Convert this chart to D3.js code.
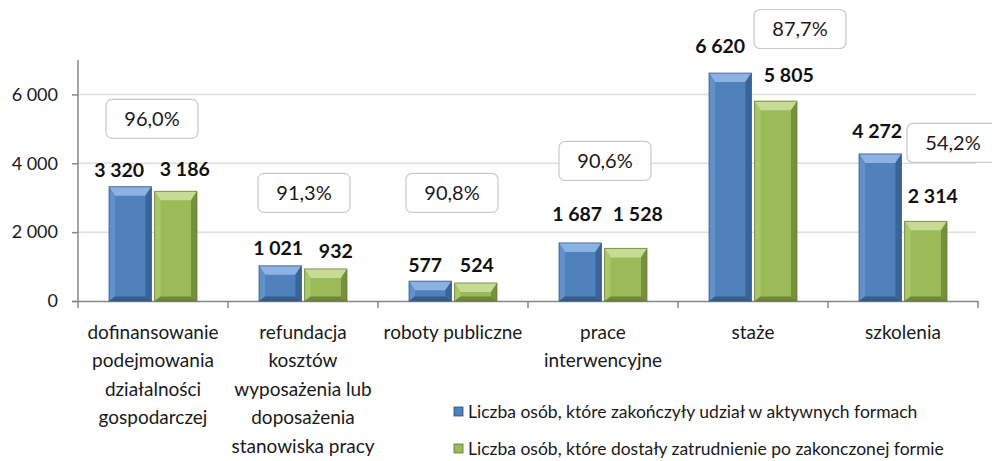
<!DOCTYPE html>
<html>
<head>
<meta charset="utf-8">
<script src="https://cdn.jsdelivr.net/npm/d3@7"></script>
<style>
  body { margin: 0; background: #fff; }
  svg { display: block; font-family: Lato, "Open Sans", sans-serif; }
</style>
</head>
<body>
<script>
// chart data
var categories = [
  "dofinansowanie podejmowania działalności gospodarczej",
  "refundacja kosztów wyposażenia lub doposażenia stanowiska pracy",
  "roboty publiczne",
  "prace interwencyjne",
  "staże",
  "szkolenia"
];
// category labels broken into lines as in the picture
var categoryLines = [
  ["dofinansowanie", "podejmowania", "działalności", "gospodarczej"],
  ["refundacja", "kosztów", "wyposażenia lub", "doposażenia", "stanowiska pracy"],
  ["roboty publiczne"],
  ["prace", "interwencyjne"],
  ["staże"],
  ["szkolenia"]
];
var finished = [3320, 1021, 577, 1687, 6620, 4272];
var employed = [3186, 932, 524, 1528, 5805, 2314];
var rates = ["96,0%", "91,3%", "90,8%", "90,6%", "87,7%", "54,2%"];
var seriesNames = [
  "Liczba osób, które zakończyły udział w aktywnych formach",
  "Liczba osób, które dostały zatrudnienie po zakonczonej formie"
];
var yTicks = [0, 2000, 4000, 6000];

// label placement (layout only)
var rateBoxAt = [[-1, 5290], [1, 3140], [-1, 3140], [2, 4070], [47, 7900], [50, 4590]]; // [dx px, y value]
var finLabelOff = [[-11, 10], [-2, 11], [-5, 9], [-3, 22], [-10, 20], [-3, 16]];
var empLabelOff = [[9, 15], [10, 11], [1, 11], [12, 27], [13, 19], [7, 18]];

var width = 992, height = 461;
var svg = d3.select("body").append("svg")
  .attr("width", width)
  .attr("height", height);

var x = d3.scaleBand().domain(d3.range(categories.length)).range([78, 978]);
var xSub = d3.scaleBand().domain([0, 1]).range([31, 119]).paddingInner(0.07);
var y = d3.scaleLinear().domain([0, 7000]).range([301, 60]);

// thousands separated by a space
var fmtVal = function(v) { return d3.format(",")(v).replace(/,/g, " "); };

// gridlines
svg.append("g")
  .selectAll("line")
  .data(yTicks.filter(function(d) { return d > 0; }))
  .enter().append("line")
  .attr("x1", 78).attr("x2", 976)
  .attr("y1", function(d) { return y(d); })
  .attr("y2", function(d) { return y(d); })
  .attr("stroke", "#dedede")
  .attr("stroke-width", 1.5);

// y axis
var yAxis = d3.axisLeft(y).tickValues(yTicks).tickSize(6).tickPadding(14)
  .tickFormat(fmtVal);
var gy = svg.append("g").attr("transform", "translate(78,0)").call(yAxis);
gy.select(".domain").attr("stroke", "#868686").attr("stroke-width", 1.5).attr("d", "M0," + 60 + "V" + 301);
gy.selectAll(".tick line").attr("stroke", "#868686").attr("stroke-width", 1.5);
gy.selectAll(".tick text").attr("font-size", 18).attr("fill", "#1a1a1a").attr("font-family", "Lato");

// x axis line + ticks at category borders
svg.append("line")
  .attr("x1", 72).attr("x2", 978)
  .attr("y1", 301.5).attr("y2", 301.5)
  .attr("stroke", "#868686").attr("stroke-width", 1.5);
svg.append("g").selectAll("line")
  .data(d3.range(categories.length + 1))
  .enter().append("line")
  .attr("x1", function(i) { return i < categories.length ? x(i) : x(i - 1) + x.bandwidth(); })
  .attr("x2", function(i) { return i < categories.length ? x(i) : x(i - 1) + x.bandwidth(); })
  .attr("y1", 301).attr("y2", 308)
  .attr("stroke", "#868686").attr("stroke-width", 1.5);

// category labels
var cat = svg.append("g").selectAll("text")
  .data(categoryLines)
  .enter().append("text")
  .attr("text-anchor", "middle")
  .attr("font-size", 19)
  .attr("fill", "#1a1a1a")
  .attr("transform", function(d, i) { return "translate(" + (x(i) + x.bandwidth() / 2) + ",339)"; });
cat.selectAll("tspan")
  .data(function(d) { return d; })
  .enter().append("tspan")
  .attr("x", 0)
  .attr("y", function(d, j) { return j * 28.4; })
  .text(function(d) { return d; });

// bevelled bars
var palettes = [
  { body: "#4f81bd", top: "#8cb2e3", left: "#6190cb", right: "#3a6397", bottom: "#365d8c", edge: "#2d4f78" },
  { body: "#9bbb59", top: "#c6dc94", left: "#a9c86a", right: "#75913c", bottom: "#6e8838", edge: "#5b7230" }
];
function drawBar(g, bx, by, bw, bh, p) {
  var bv = Math.min(9, bh / 2), sv = Math.min(6, bw / 4);
  g.append("rect").attr("x", bx).attr("y", by).attr("width", bw).attr("height", bh)
    .attr("fill", p.body);
  var pts = function(a) { return a.map(function(q) { return q.join(","); }).join(" "); };
  g.append("polygon").attr("fill", p.top)
    .attr("points", pts([[bx, by], [bx + bw, by], [bx + bw - sv, by + bv], [bx + sv, by + bv]]));
  g.append("polygon").attr("fill", p.left)
    .attr("points", pts([[bx, by], [bx + sv, by + bv], [bx + sv, by + bh - bv / 2], [bx, by + bh]]));
  g.append("polygon").attr("fill", p.right)
    .attr("points", pts([[bx + bw, by], [bx + bw, by + bh], [bx + bw - sv, by + bh - bv / 2], [bx + bw - sv, by + bv]]));
  g.append("polygon").attr("fill", p.bottom)
    .attr("points", pts([[bx, by + bh], [bx + sv, by + bh - bv / 2], [bx + bw - sv, by + bh - bv / 2], [bx + bw, by + bh]]));
  g.append("rect").attr("x", bx).attr("y", by).attr("width", bw).attr("height", bh)
    .attr("fill", "none").attr("stroke", p.edge).attr("stroke-width", 1).attr("stroke-opacity", 0.7);
}

var series = [finished, employed];
var offsets = [finLabelOff, empLabelOff];
var barsG = svg.append("g");
var labelsG = svg.append("g");
series.forEach(function(vals, s) {
  vals.forEach(function(v, i) {
    var bx = x(i) + xSub(s), bw = xSub.bandwidth();
    drawBar(barsG, bx, y(v), bw, y(0) - y(v), palettes[s]);
    labelsG.append("text")
      .attr("x", bx + bw / 2 + offsets[s][i][0])
      .attr("y", y(v) - offsets[s][i][1])
      .attr("text-anchor", "middle")
      .attr("font-size", 19.5)
      .attr("font-weight", "bold")
      .attr("fill", "#111")
      .text(fmtVal(v));
  });
});

// rate boxes
var rateG = svg.append("g").selectAll("g")
  .data(rates)
  .enter().append("g")
  .attr("transform", function(d, i) {
    return "translate(" + (x(i) + x.bandwidth() / 2 + rateBoxAt[i][0]) + "," + y(rateBoxAt[i][1]) + ")";
  });
rateG.append("rect")
  .attr("x", -46).attr("y", -19.5).attr("width", 92).attr("height", 39)
  .attr("rx", 6)
  .attr("fill", "#fff")
  .attr("stroke", "#c9c9c9")
  .attr("stroke-width", 1.2);
rateG.append("text")
  .attr("text-anchor", "middle")
  .attr("dy", "0.35em")
  .attr("font-size", 20)
  .attr("fill", "#1a1a1a")
  .text(function(d) { return d; });

// legend
var legend = svg.append("g").selectAll("g")
  .data(seriesNames)
  .enter().append("g")
  .attr("transform", function(d, i) { return "translate(454," + (412 + i * 37) + ")"; });
legend.append("rect")
  .attr("x", 0).attr("y", -5).attr("width", 9).attr("height", 9)
  .attr("fill", function(d, i) { return palettes[i].body; })
  .attr("stroke", function(d, i) { return palettes[i].edge; })
  .attr("stroke-width", 0.8);
legend.append("text")
  .attr("x", 14)
  .attr("dy", "0.35em")
  .attr("font-size", 17.5)
  .attr("fill", "#1a1a1a")
  .text(function(d) { return d; });
</script>
</body>
</html>
